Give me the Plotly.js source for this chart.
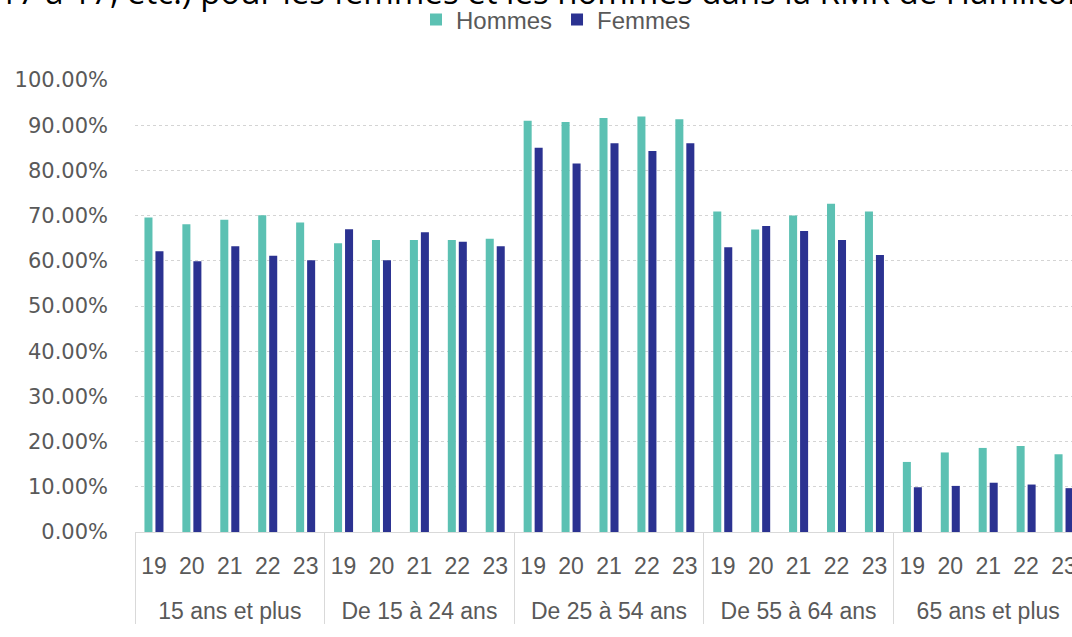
<!DOCTYPE html>
<html>
<head>
<meta charset="utf-8">
<script src="https://cdn.plot.ly/plotly-3.0.1.min.js"></script>
<style>
html, body { margin:0; padding:0; overflow:hidden; background:#fff; }
#chart { width:1083px; height:637px; }
</style>
</head>
<body>
<div id="chart"></div>
<script>
// Data
const groups = ['15 ans et plus', 'De 15 à 24 ans', 'De 25 à 54 ans', 'De 55 à 64 ans', '65 ans et plus'];
const years = ['19', '20', '21', '22', '23'];
const hommes = [69.6, 68.1, 69.1, 70.1, 68.5,
                63.9, 64.6, 64.6, 64.6, 64.9,
                91.0, 90.7, 91.6, 91.9, 91.3,
                70.9, 66.9, 70.0, 72.6, 70.9,
                15.5, 17.6, 18.6, 19.0, 17.2];
const femmes = [62.1, 59.9, 63.2, 61.1, 60.1,
                67.0, 60.1, 66.3, 64.2, 63.2,
                85.0, 81.5, 86.0, 84.3, 86.0,
                63.0, 67.7, 66.6, 64.6, 61.3,
                 9.9, 10.2, 10.9, 10.5,  9.7];
const seriesNames = ['Hommes', 'Femmes'];
const titleText = '17 à 17, etc.) pour les femmes et les hommes dans la RMR de Hamilton';

const xGroup = [], xYear = [];
groups.forEach(g => years.forEach(y => { xGroup.push('<br>' + g); xYear.push(y); }));

const W = 1083, H = 637;
const mL = 135, mR = 0, mT = 80, mB = 105;
const plotW = W - mL - mR, plotH = H - mT - mB;
const px2x = p => (p - mL) / plotW;
const py2y = p => (H - mB - p) / plotH;

const gray = '#595959';

const traces = [
  { type: 'bar', name: seriesNames[0], x: [xGroup, xYear], y: hommes,
    marker: { color: '#5cc1b3' } },
  { type: 'bar', name: seriesNames[1], x: [xGroup, xYear], y: femmes,
    marker: { color: '#2b3291' } }
];

const layout = {
  width: W, height: H,
  margin: { l: mL, r: mR, t: mT, b: mB, pad: 0, autoexpand: false },
  paper_bgcolor: '#fff', plot_bgcolor: '#fff',
  barmode: 'group', bargap: 0.42, bargroupgap: 0.27,
  font: { family: 'Liberation Sans, Arial, sans-serif', color: gray },
  showlegend: true,
  legend: {
    orientation: 'h', x: px2x(556), xanchor: 'center', y: py2y(20), yanchor: 'middle',
    font: { family: 'Liberation Sans, Arial, sans-serif', size: 24, color: gray },
    itemwidth: 30, traceorder: 'normal', bgcolor: 'rgba(0,0,0,0)'
  },
  xaxis: {
    type: 'multicategory',
    showgrid: false, zeroline: false,
    showline: true, linecolor: '#d9d9d9', linewidth: 1,
    showdividers: true, dividercolor: '#d9d9d9', dividerwidth: 1,
    ticks: '',
    ticklabelstandoff: 13,
    tickfont: { family: 'Liberation Sans, Arial, sans-serif', size: 23, color: gray }
  },
  yaxis: {
    range: [0, 100], dtick: 10, tick0: 0,
    tickformat: '.2f', ticksuffix: '%',
    showgrid: true, gridcolor: '#d4d4d4', griddash: 'dot', gridwidth: 1,
    zeroline: false, showline: false, ticks: '',
    ticklabelstandoff: 26,
    tickfont: { family: 'DejaVu Sans, sans-serif', size: 21, color: gray }
  },
  annotations: [
    { text: titleText, xref: 'paper', yref: 'paper',
      x: px2x(-3), xanchor: 'left', y: py2y(-8), yanchor: 'middle',
      showarrow: false,
      font: { family: 'Open Sans, sans-serif', size: 33, color: '#000' } }
  ]
};

Plotly.newPlot('chart', traces, layout, { staticPlot: true, displayModeBar: false });
</script>
</body>
</html>
